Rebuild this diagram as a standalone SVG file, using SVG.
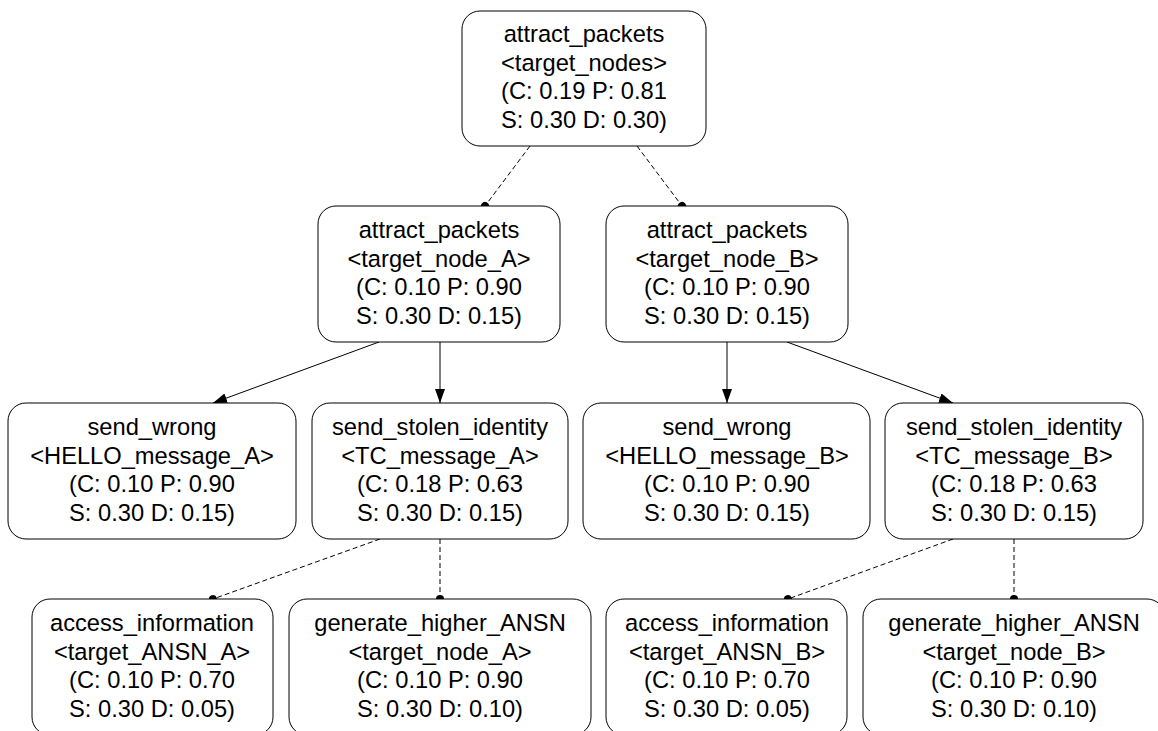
<svg xmlns="http://www.w3.org/2000/svg" width="1158" height="731" viewBox="0 0 1158 731">
<style>
.n rect{fill:#fff;stroke:#000;stroke-width:1}
.n text{font-family:"Liberation Sans",Arial,sans-serif;font-size:23.7px;fill:#000;text-anchor:middle}
.e line{stroke:#000;stroke-width:1;fill:none}
.d{stroke-dasharray:5,3}
</style>
<defs>
<marker id="ah" markerWidth="14" markerHeight="10" refX="14" refY="5" orient="auto" markerUnits="userSpaceOnUse">
<path d="M0,0 L14,5 L0,10 Z" fill="#000"/>
</marker>
<marker id="dot" markerWidth="10" markerHeight="10" refX="5" refY="5" orient="auto" markerUnits="userSpaceOnUse">
<circle cx="5" cy="5" r="4" fill="#000"/>
</marker>
</defs>
<rect width="1158" height="731" fill="#fff"/>
<g id="connectors" class="e">
<line class="d" x1="530" y1="146" x2="485" y2="206" marker-end="url(#dot)"/>
<line class="d" x1="637" y1="146" x2="682" y2="206" marker-end="url(#dot)"/>
<line x1="379" y1="342" x2="213" y2="403" marker-end="url(#ah)"/>
<line x1="440" y1="342" x2="440" y2="403" marker-end="url(#ah)"/>
<line x1="727" y1="342" x2="727" y2="403" marker-end="url(#ah)"/>
<line x1="787" y1="342" x2="953" y2="403" marker-end="url(#ah)"/>
<line class="d" x1="380" y1="539" x2="213" y2="599" marker-end="url(#dot)"/>
<line class="d" x1="440" y1="539" x2="440" y2="599" marker-end="url(#dot)"/>
<line class="d" x1="953" y1="539" x2="788" y2="599" marker-end="url(#dot)"/>
<line class="d" x1="1014" y1="539" x2="1014" y2="599" marker-end="url(#dot)"/>
</g>
<g id="n_root" class="n">
<rect x="462" y="11" width="244" height="135" rx="18"/>
<text x="584" y="42">attract_packets</text>
<text x="584" y="71">&lt;target_nodes&gt;</text>
<text x="584" y="99">(C: 0.19 P: 0.81</text>
<text x="584" y="128">S: 0.30 D: 0.30)</text>
</g>
<g id="n_ap_A" class="n">
<rect x="318" y="206" width="242" height="136" rx="18"/>
<text x="439" y="238">attract_packets</text>
<text x="439" y="267">&lt;target_node_A&gt;</text>
<text x="439" y="295">(C: 0.10 P: 0.90</text>
<text x="439" y="324">S: 0.30 D: 0.15)</text>
</g>
<g id="n_ap_B" class="n">
<rect x="606" y="206" width="242" height="136" rx="18"/>
<text x="727" y="238">attract_packets</text>
<text x="727" y="267">&lt;target_node_B&gt;</text>
<text x="727" y="295">(C: 0.10 P: 0.90</text>
<text x="727" y="324">S: 0.30 D: 0.15)</text>
</g>
<g id="n_sw_A" class="n">
<rect x="8" y="403" width="288" height="136" rx="18"/>
<text x="152" y="435">send_wrong</text>
<text x="152" y="464">&lt;HELLO_message_A&gt;</text>
<text x="152" y="492">(C: 0.10 P: 0.90</text>
<text x="152" y="521">S: 0.30 D: 0.15)</text>
</g>
<g id="n_ss_A" class="n">
<rect x="312" y="403" width="256" height="136" rx="18"/>
<text x="440" y="435">send_stolen_identity</text>
<text x="440" y="464">&lt;TC_message_A&gt;</text>
<text x="440" y="492">(C: 0.18 P: 0.63</text>
<text x="440" y="521">S: 0.30 D: 0.15)</text>
</g>
<g id="n_sw_B" class="n">
<rect x="583" y="403" width="287" height="136" rx="18"/>
<text x="727" y="435">send_wrong</text>
<text x="727" y="464">&lt;HELLO_message_B&gt;</text>
<text x="727" y="492">(C: 0.10 P: 0.90</text>
<text x="727" y="521">S: 0.30 D: 0.15)</text>
</g>
<g id="n_ss_B" class="n">
<rect x="885" y="403" width="258" height="136" rx="18"/>
<text x="1014" y="435">send_stolen_identity</text>
<text x="1014" y="464">&lt;TC_message_B&gt;</text>
<text x="1014" y="492">(C: 0.18 P: 0.63</text>
<text x="1014" y="521">S: 0.30 D: 0.15)</text>
</g>
<g id="n_ai_A" class="n">
<rect x="32" y="599" width="241" height="136" rx="18"/>
<text x="152" y="631">access_information</text>
<text x="152" y="660">&lt;target_ANSN_A&gt;</text>
<text x="152" y="688">(C: 0.10 P: 0.70</text>
<text x="152" y="717">S: 0.30 D: 0.05)</text>
</g>
<g id="n_gh_A" class="n">
<rect x="289" y="599" width="302" height="136" rx="18"/>
<text x="440" y="631">generate_higher_ANSN</text>
<text x="440" y="660">&lt;target_node_A&gt;</text>
<text x="440" y="688">(C: 0.10 P: 0.90</text>
<text x="440" y="717">S: 0.30 D: 0.10)</text>
</g>
<g id="n_ai_B" class="n">
<rect x="606" y="599" width="241" height="136" rx="18"/>
<text x="727" y="631">access_information</text>
<text x="727" y="660">&lt;target_ANSN_B&gt;</text>
<text x="727" y="688">(C: 0.10 P: 0.70</text>
<text x="727" y="717">S: 0.30 D: 0.05)</text>
</g>
<g id="n_gh_B" class="n">
<rect x="863" y="599" width="302" height="136" rx="18"/>
<text x="1014" y="631">generate_higher_ANSN</text>
<text x="1014" y="660">&lt;target_node_B&gt;</text>
<text x="1014" y="688">(C: 0.10 P: 0.90</text>
<text x="1014" y="717">S: 0.30 D: 0.10)</text>
</g>
</svg>
